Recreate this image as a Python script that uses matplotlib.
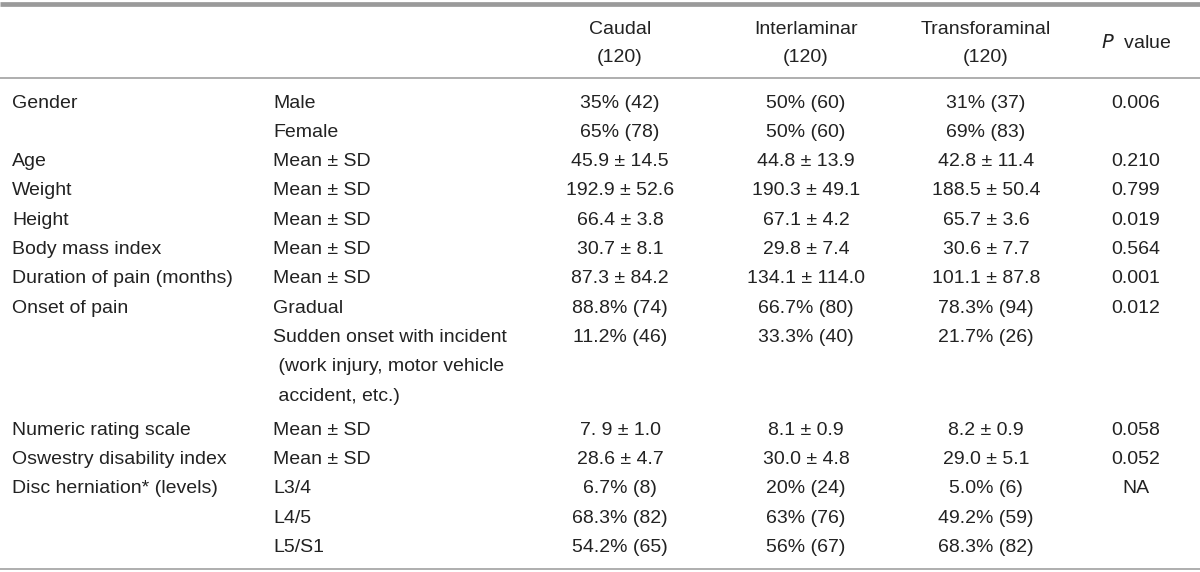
import matplotlib
matplotlib.use("Agg")
import matplotlib.pyplot as plt

# table content
variables = ["Gender", "", "Age", "Weight", "Height", "Body mass index",
             "Duration of pain (months)", "Onset of pain", "", "Numeric rating scale",
             "Oswestry disability index", "Disc herniation* (levels)", "", ""]
subgroups = ["Male", "Female", "Mean \u00b1 SD", "Mean \u00b1 SD", "Mean \u00b1 SD",
             "Mean \u00b1 SD", "Mean \u00b1 SD", "Gradual",
             "Sudden onset with incident\n (work injury, motor vehicle\n accident, etc.)",
             "Mean \u00b1 SD", "Mean \u00b1 SD", "L3/4", "L4/5", "L5/S1"]
caudal = ["35% (42)", "65% (78)", "45.9 \u00b1 14.5", "192.9 \u00b1 52.6", "66.4 \u00b1 3.8",
          "30.7 \u00b1 8.1", "87.3 \u00b1 84.2", "88.8% (74)", "11.2% (46)", "7. 9 \u00b1 1.0",
          "28.6 \u00b1 4.7", "6.7% (8)", "68.3% (82)", "54.2% (65)"]
interlaminar = ["50% (60)", "50% (60)", "44.8 \u00b1 13.9", "190.3 \u00b1 49.1", "67.1 \u00b1 4.2",
                "29.8 \u00b1 7.4", "134.1 \u00b1 114.0", "66.7% (80)", "33.3% (40)", "8.1 \u00b1 0.9",
                "30.0 \u00b1 4.8", "20% (24)", "63% (76)", "56% (67)"]
transforaminal = ["31% (37)", "69% (83)", "42.8 \u00b1 11.4", "188.5 \u00b1 50.4", "65.7 \u00b1 3.6",
                  "30.6 \u00b1 7.7", "101.1 \u00b1 87.8", "78.3% (94)", "21.7% (26)", "8.2 \u00b1 0.9",
                  "29.0 \u00b1 5.1", "5.0% (6)", "49.2% (59)", "68.3% (82)"]
p_values = ["0.006", "", "0.210", "0.799", "0.019", "0.564", "0.001", "0.012", "",
            "0.058", "0.052", "NA", "", ""]
group_names = ["Caudal", "Interlaminar", "Transforaminal"]
group_n = [120, 120, 120]

W, H = 1200, 572
txt = "#222222"
fs = 14
plt.rcParams["font.family"] = ["Liberation Sans", "DejaVu Sans"]

fig = plt.figure(figsize=(W / 100, H / 100), dpi=100)
ax = fig.add_axes([0, 0, 1, 1])
ax.set_xlim(0, W)
ax.set_ylim(H, 0)
ax.axis("off")

# rules
ax.plot([0, W], [4, 4], color="#9a9a9a", lw=3.4, solid_capstyle="butt")
ax.plot([0, W], [78, 78], color="#a8a8a8", lw=1.3)
ax.plot([0, W], [569, 569], color="#a8a8a8", lw=1.3)

col_x = [620, 806, 986]
p_x = 1136

# header
for x, name, n in zip(col_x, group_names, group_n):
    ax.text(x, 29, name, ha="center", va="center", fontsize=fs, color=txt)
    ax.text(x, 57, f"({n})", ha="center", va="center", fontsize=fs, color=txt)
ax.text(p_x, 43, r"$\it{P}$" + "  value", ha="center", va="center", fontsize=fs, color=txt)

# body rows
pitch = 29.3
y = 103
for i in range(len(variables)):
    n_lines = subgroups[i].count("\n") + 1
    ax.text(12, y, variables[i], ha="left", va="center", fontsize=fs, color=txt)
    for k, line in enumerate(subgroups[i].split("\n")):
        ax.text(273, y + k * pitch, line, ha="left", va="center", fontsize=fs, color=txt)
    for x, vals in zip(col_x, [caudal, interlaminar, transforaminal]):
        ax.text(x, y, vals[i], ha="center", va="center", fontsize=fs, color=txt)
    ax.text(p_x, y, p_values[i], ha="center", va="center", fontsize=fs, color=txt)
    y += pitch * n_lines
    if n_lines > 1:
        y += 5

fig.savefig("out.png", dpi=100)
